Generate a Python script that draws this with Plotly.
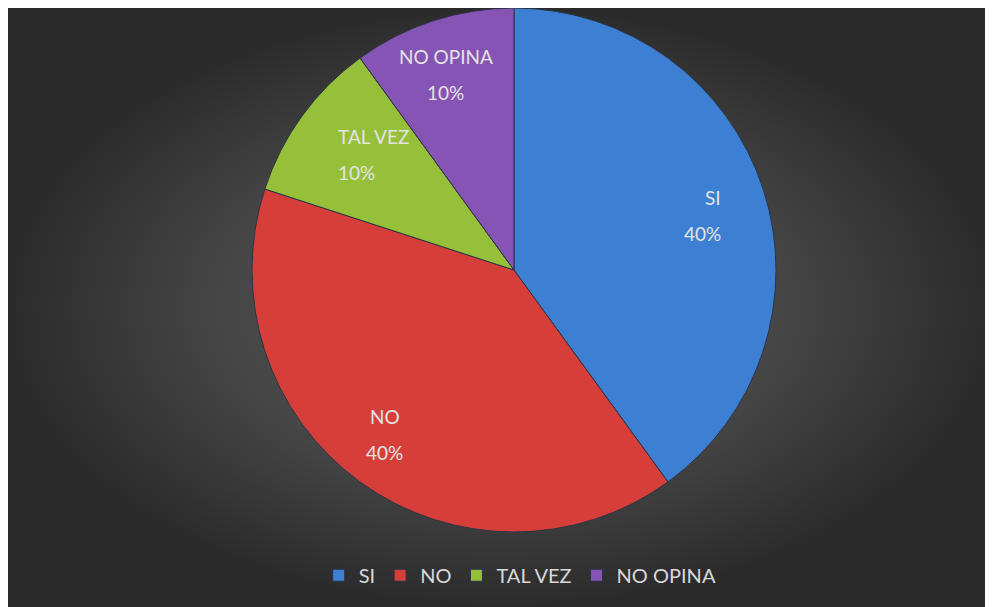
import numpy as np
import plotly.graph_objects as go

labels = ["SI", "NO", "TAL VEZ", "NO OPINA"]
values = [40, 40, 10, 10]
colors = ["#3d7fd3", "#d63f39", "#96c03a", "#8654b4"]

W, H = 985, 599
dom_x = [0.2477, 0.7797]
dom_y = [0.1252, 1.0]

fig = go.Figure()

# radial gradient background on hidden axes
fig.add_trace(go.Scatter(
    x=[0, 1, 1, 0, 0], y=[0, 0, 1, 1, 0],
    fill="toself", mode="lines", line=dict(width=0),
    fillgradient=dict(type="radial",
                      colorscale=[[0, "#555555"], [0.55, "#474747"], [1, "#2b2b2b"]]),
    hoverinfo="skip", showlegend=False,
))

fig.add_trace(go.Pie(
    labels=labels, values=values, sort=False, direction="clockwise", rotation=0,
    marker=dict(colors=colors, line=dict(color="#2a3445", width=1)),
    textinfo="none",
    domain=dict(x=dom_x, y=dom_y),
    hoverinfo="label+percent",
))

# data labels placed along each slice's mid angle (Excel "best fit" style)
vals = np.array(values, dtype=float)
total = vals.sum()
mid = (np.cumsum(vals) - vals / 2) / total * 2 * np.pi
cx_px = (dom_x[0] + dom_x[1]) / 2 * W
cy_px = (dom_y[0] + dom_y[1]) / 2 * H
r_px = min((dom_x[1] - dom_x[0]) * W, (dom_y[1] - dom_y[0]) * H) / 2
rf = 0.84
for lab, v, a in zip(labels, vals, mid):
    px = cx_px + rf * r_px * np.sin(a)
    py = cy_px + rf * r_px * np.cos(a)
    pct = f"{v / total:.0%}"
    for txt, ys in ((lab, 18), (pct, -18)):
        fig.add_annotation(
            x=px / W, y=py / H, xref="paper", yref="paper",
            text=txt, showarrow=False, yshift=ys,
            font=dict(family="Lato", size=19, color="#e3e3e3"),
        )

fig.update_layout(
    width=W, height=H,
    margin=dict(l=0, t=0, r=0, b=0),
    paper_bgcolor="#3a3a3a", plot_bgcolor="#3a3a3a",
    xaxis=dict(visible=False, range=[0, 1], fixedrange=True),
    yaxis=dict(visible=False, range=[0, 1], fixedrange=True),
    showlegend=True,
    legend=dict(orientation="h", x=0.52, xanchor="center", y=0.053, yanchor="middle",
                font=dict(family="Lato", size=20, color="#d9d9d9"),
                bgcolor="rgba(0,0,0,0)", itemwidth=30, traceorder="normal"),
    font=dict(family="Lato"),
)

fig.write_html("out.html")
